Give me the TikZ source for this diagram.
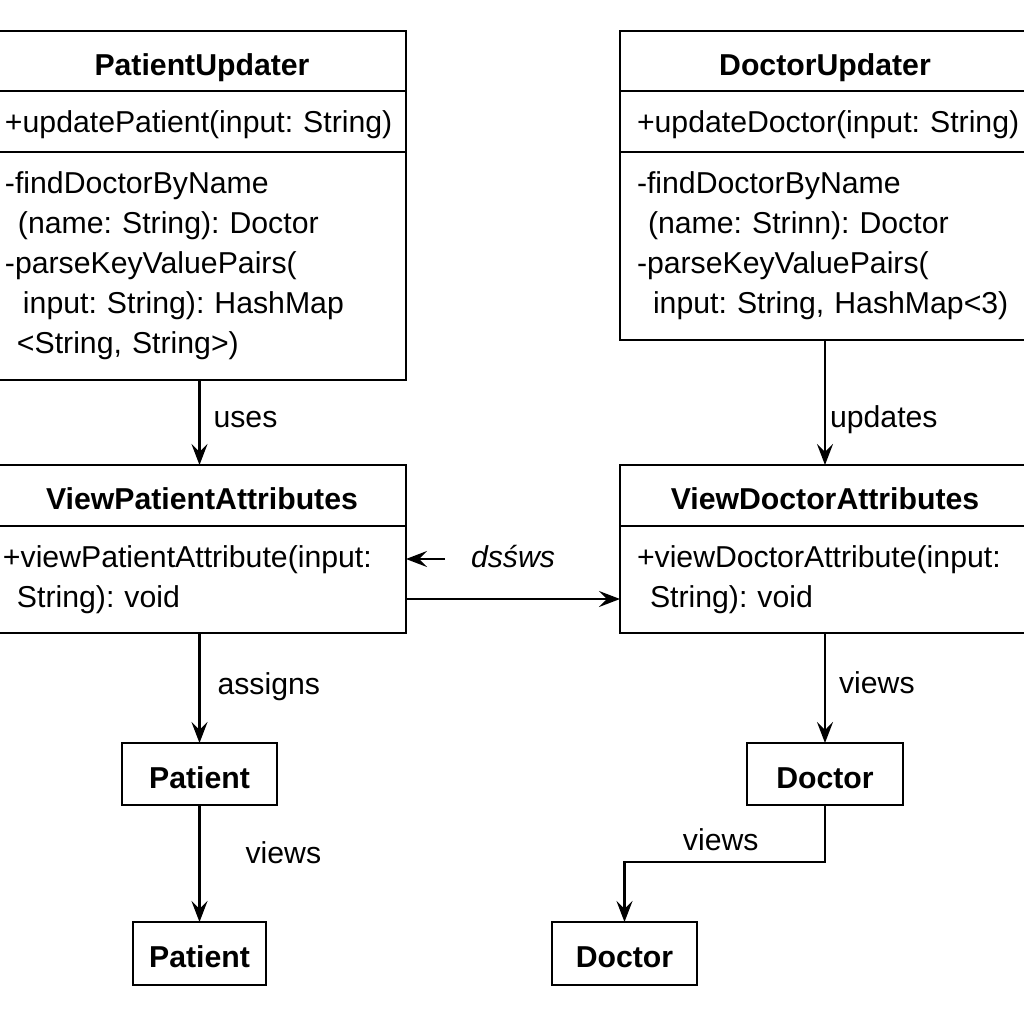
\documentclass[tikz,border=0pt]{standalone}
\usepackage{fontspec}
\setmainfont{Liberation Sans}
\usetikzlibrary{arrows.meta,positioning}
\frenchspacing

\begin{document}
\begin{tikzpicture}[
        every node/.style={font=\fontsize{8.6}{11.4}\selectfont},
        box/.style={draw, line width=0.6pt, inner sep=0pt, outer sep=0pt},
        ttl/.style={box, font=\fontsize{8.6}{11.4}\selectfont\bfseries, minimum width=#1, text height=0.8em, text depth=0pt},
        sec/.style={box, align=left, text width=#1},
        cls/.style={box, font=\fontsize{8.6}{11.4}\selectfont\bfseries, minimum height=0.62cm, text height=0.8em, text depth=0pt},
        lbl/.style={inner sep=0pt},
        arr/.style={-{Stealth[length=2.1mm, width=1.6mm, inset=0.8mm]}, line width=0.6pt}
    ]
        \useasboundingbox (0, 0) rectangle (10.24, -10.24);

        % updaters
        \node[ttl=4.08cm, minimum height=0.60cm, anchor=north west] (pu) at (-0.02, -0.31) {PatientUpdater};
        \node[sec=3.94cm, inner xsep=0.07cm, minimum height=0.61cm, text depth=0pt, below=0pt of pu] (pu-ops) {\mbox{+updatePatient(input: String)}};
        \node[sec=3.94cm, inner xsep=0.07cm, minimum height=2.28cm, below=0pt of pu-ops] (pu-priv) {-findDoctorByName\\
            \hspace*{0.13cm}(name: String): Doctor\\
            -parseKeyValuePairs(\\
            \hspace*{0.18cm}input: String): HashMap\\
            \hspace*{0.12cm}<String, String>)};

        \node[ttl=4.10cm, minimum height=0.60cm, anchor=north west] (du) at (6.20, -0.31) {DoctorUpdater};
        \node[sec=3.76cm, inner xsep=0.17cm, minimum height=0.61cm, text depth=0pt, below=0pt of du] (du-ops) {\mbox{+updateDoctor(input: String)}};
        \node[sec=3.76cm, inner xsep=0.17cm, minimum height=1.88cm, below=0pt of du-ops] (du-priv) {-findDoctorByName\\
            \hspace*{0.11cm}(name: Strinn): Doctor\\
            -parseKeyValuePairs(\\
            \hspace*{0.16cm}\mbox{input: String, HashMap<3)}};

        % attribute views
        \node[ttl=4.08cm, minimum height=0.61cm, anchor=north west] (vpa) at (-0.02, -4.65) {ViewPatientAttributes};
        \node[sec=3.98cm, inner xsep=0.05cm, minimum height=1.07cm, below=0pt of vpa] (vpa-body) {\mbox{+viewPatientAttribute(input:}\\
            \hspace*{0.14cm}String): void};

        \node[ttl=4.10cm, minimum height=0.61cm, anchor=north west] (vda) at (6.20, -4.65) {ViewDoctorAttributes};
        \node[sec=3.76cm, inner xsep=0.17cm, minimum height=1.07cm, below=0pt of vda] (vda-body) {\mbox{+viewDoctorAttribute(input:}\\
            \hspace*{0.13cm}String): void};

        % entities
        \node[cls, minimum width=1.55cm] (pat1) at (1.995, -7.74) {Patient};
        \node[cls, minimum width=1.33cm, minimum height=0.63cm] (pat2) at (1.995, -9.535) {Patient};
        \node[cls, minimum width=1.56cm] (doc1) at (8.25, -7.74) {Doctor};
        \node[cls, minimum width=1.45cm, minimum height=0.63cm] (doc2) at (6.245, -9.535) {Doctor};

        % links
        \draw[arr] (pu-priv.south -| pat1) -- node[lbl, right=0.13cm, pos=0.47] {uses} (vpa.north -| pat1);
        \draw[arr] (du-priv.south) -- node[lbl, right=0.04cm, pos=0.64] {updates} (vda.north);

        \coordinate (ds) at (4.45, -5.59);
        \coordinate (lk) at (5.00, -5.99);
        \draw[arr] (ds) -- (ds -| vpa-body.east);
        \node[lbl, font=\fontsize{8.6}{11.4}\selectfont\itshape] (ds-lbl) at (5.13, -5.57) {dsśws};
        \draw[arr] (lk -| vpa-body.east) -- (lk -| vda-body.west);

        \draw[arr] (vpa-body.south -| pat1) -- node[lbl, right=0.17cm, pos=0.49] {assigns} (pat1.north);
        \draw[arr] (pat1.south) -- node[lbl, right=0.45cm, pos=0.41] {views} (pat2.north);
        \draw[arr] (vda-body.south -| doc1) -- node[lbl, right=0.13cm, pos=0.45] {views} (doc1.north);
        \draw[arr] (doc1.south) -- ++(0, -0.57) -| node[lbl, above=0.10cm, pos=0.26] {views} (doc2.north);
    \end{tikzpicture}
\end{document}
